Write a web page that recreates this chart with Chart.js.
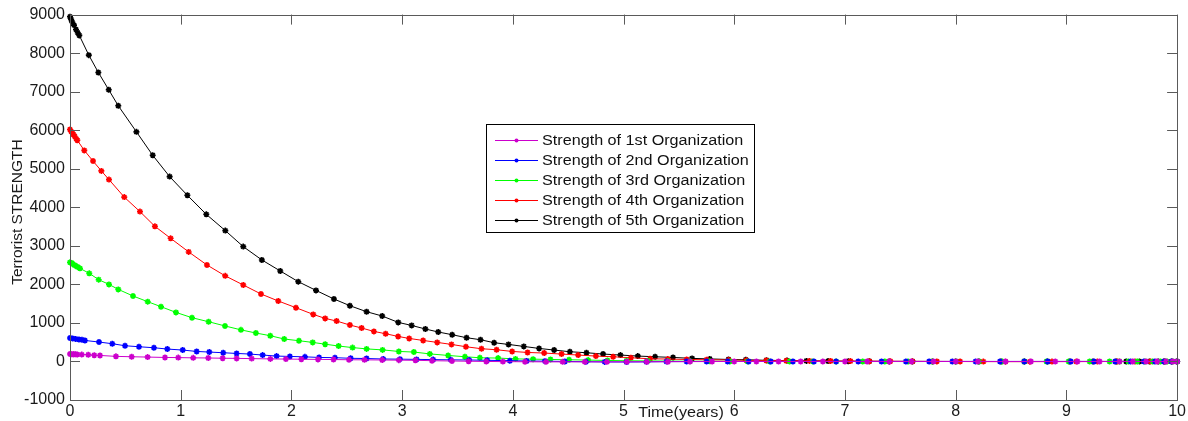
<!DOCTYPE html>
<html>
<head>
<meta charset="utf-8">
<script src="https://cdn.jsdelivr.net/npm/chart.js@4/dist/chart.umd.min.js"></script>
<style>
  html, body { margin: 0; padding: 0; background: #fff; }
  #wrap { width: 1188px; height: 421px; position: relative; }
</style>
</head>
<body>
<div id="wrap"><canvas id="c" width="1188" height="421"></canvas></div>
<script>
// ---- data ----
const xTicks = [0, 1, 2, 3, 4, 5, 6, 7, 8, 9, 10];
const yTicks = [-1000, 0, 1000, 2000, 3000, 4000, 5000, 6000, 7000, 8000, 9000];

const seriesNames = [
  'Strength of 1st Organization',
  'Strength of 2nd Organization',
  'Strength of 3rd Organization',
  'Strength of 4th Organization',
  'Strength of 5th Organization'
];

const t1 = [0,0.015,0.03,0.036,0.052,0.066,0.106,0.165,0.219,0.271,0.415,0.557,0.701,0.858,0.978,1.113,1.249,1.379,1.505,1.641,1.81,1.95,2.09,2.24,2.38,2.52,2.66,2.82,2.97,3.12,3.27,3.45,3.6,3.76,3.91,4.11,4.30,4.45,4.65,4.85,5.03,5.21,5.40,5.6,5.8,6.0,6.2,6.4,6.6,6.8,7.0,7.2,7.4,7.6,7.8,8.0,8.2,8.45,8.68,8.9,9.1,9.3,9.48,9.6,9.72,9.82,9.9,9.96,10];
const v1 = [192,190,188,186,184,182,178,174,162,156,132,122,114,104,100,94,90,84,80,74,66,62,58,54,50,44,42,38,34,30,20,12,6,0,-4,-8,-10,-10,-10,-10,-9,-8,-6,-4,-2,-1,0,0,0,0,0,0,0,0,0,0,0,0,0,0,0,0,0,0,0,0,0,0,0];

const t2 = [0,0.024,0.052,0.081,0.108,0.135,0.262,0.382,0.497,0.623,0.758,0.879,1.018,1.144,1.258,1.384,1.505,1.625,1.74,1.866,1.986,2.122,2.25,2.393,2.535,2.679,2.829,2.98,3.13,3.28,3.44,3.605,3.768,3.973,4.124,4.29,4.47,4.66,4.83,5.027,5.207,5.388,5.57,5.75,5.94,6.13,6.33,6.53,6.72,6.92,7.12,7.33,7.55,7.76,7.97,8.18,8.40,8.62,8.83,9.04,9.25,9.44,9.58,9.70,9.80,9.88,9.95,10];
const v2 = [610,597,582,571,564,545,504,460,408,382,356,322,296,260,244,226,208,192,166,140,130,120,104,98,82,76,64,60,54,48,42,38,30,20,12,8,0,-6,-12,-14,-10,-4,-2,0,0,0,0,0,0,0,0,0,0,0,0,0,0,0,0,0,0,0,0,0,0,0,0,0];

const t3 = [0,0.015,0.024,0.039,0.054,0.069,0.09,0.174,0.259,0.352,0.436,0.569,0.702,0.822,0.957,1.102,1.252,1.4,1.544,1.679,1.809,1.935,2.068,2.192,2.305,2.426,2.552,2.679,2.823,2.97,3.106,3.25,3.416,3.567,3.702,3.867,4.024,4.183,4.34,4.508,4.68,4.855,5.027,5.22,5.40,5.60,5.78,5.96,6.12,6.32,6.50,6.71,6.92,7.16,7.36,7.57,7.79,8.0,8.21,8.42,8.62,8.82,9.02,9.21,9.39,9.48,9.56,9.64,9.71,9.78,9.85,9.91,9.96,10];
const v3 = [2571,2556,2530,2504,2478,2452,2416,2286,2122,2000,1870,1699,1551,1421,1273,1135,1031,921,820,738,668,582,538,494,448,400,360,326,300,260,244,196,156,122,96,88,66,60,52,44,36,26,18,14,10,6,4,2,1,0,-1,-2,-2,-2,-2,-2,-2,-1,-1,-1,0,0,0,0,0,0,0,0,0,0,0,0,0,0];

const t4 = [0,0.009,0.021,0.03,0.042,0.057,0.066,0.129,0.208,0.283,0.352,0.49,0.632,0.767,0.909,1.072,1.237,1.402,1.565,1.725,1.881,2.041,2.197,2.305,2.408,2.528,2.634,2.745,2.851,2.964,3.064,3.19,3.317,3.446,3.576,3.717,3.853,3.994,4.133,4.283,4.44,4.59,4.75,4.906,5.066,5.24,5.40,5.57,5.75,5.95,6.11,6.29,6.47,6.68,6.87,7.05,7.22,7.41,7.61,7.83,8.04,8.25,8.45,8.67,8.87,9.09,9.28,9.46,9.62,9.76,9.88,10];
const v4 = [6018,5974,5932,5888,5844,5777,5740,5477,5200,4945,4719,4265,3888,3506,3195,2842,2504,2221,1984,1751,1569,1395,1221,1117,1049,945,868,779,719,649,597,545,494,442,382,330,304,260,234,218,192,166,140,122,96,70,62,52,44,38,30,24,20,15,12,9,7,5,3,1,-2,-4,-5,-5,-4,-4,-3,-1,0,0,0,0];

const t5 = [0,0.01,0.02,0.036,0.054,0.07,0.084,0.17,0.256,0.35,0.436,0.6,0.747,0.9,1.06,1.231,1.403,1.565,1.733,1.899,2.062,2.222,2.384,2.528,2.679,2.82,2.965,3.086,3.21,3.326,3.452,3.582,3.708,3.831,3.961,4.099,4.237,4.373,4.515,4.665,4.815,4.972,5.129,5.285,5.447,5.619,5.779,5.948,6.104,6.291,6.477,6.652,6.847,7.03,7.22,7.40,7.61,7.79,8.0,8.21,8.41,8.62,8.83,9.03,9.24,9.45,9.54,9.66,9.75,9.83,9.89,9.95,10];
const v5 = [8945,8875,8805,8727,8615,8530,8460,7948,7499,7049,6634,5958,5350,4797,4312,3818,3395,2980,2634,2348,2070,1844,1621,1447,1291,1179,1013,935,842,764,694,616,564,486,442,390,338,296,252,226,192,166,140,122,104,80,66,52,44,30,22,14,10,6,4,2,1,0,0,-1,-2,-2,-1,-1,0,0,0,0,0,0,0,0,0];

const seriesT = [t1, t2, t3, t4, t5];
const seriesV = [v1, v2, v3, v4, v5];
const seriesColors = ['#CC00CC', '#0000FF', '#00FF00', '#FF0000', '#000000'];

const xTitle = 'Time(years)';
const yTitle = 'Terrorist STRENGTH';

// ---- build datasets ----
const datasets = seriesNames.map((name, i) => ({
  label: name,
  data: seriesT[i].map((t, k) => ({ x: t, y: seriesV[i][k] })),
  borderColor: seriesColors[i],
  backgroundColor: seriesColors[i],
  borderWidth: 1,
  pointStyle: 'star',
  pointRadius: 3,
  pointBorderWidth: 1.6,
  pointHoverRadius: 3,
  tension: 0,
  clip: 6
}));

const FONT = '"Liberation Sans", Arial, sans-serif';
const STRETCH = 1.155;

function stretchedText(ctx, text, x, y, align) {
  ctx.save();
  ctx.translate(x, y);
  ctx.scale(STRETCH, 1);
  ctx.textAlign = align;
  ctx.fillText(text, 0, 0);
  ctx.restore();
}

const framePlugin = {
  id: 'frame',
  afterDatasetsDraw(chart) {
    const { ctx, chartArea: a, scales } = chart;
    ctx.save();
    ctx.strokeStyle = '#5a5a5a';
    ctx.lineWidth = 1;
    ctx.strokeRect(Math.round(a.left) + 0.5, Math.round(a.top) + 0.5,
                   Math.round(a.right - a.left), Math.round(a.bottom - a.top));
    const L = 10;
    ctx.beginPath();
    xTicks.forEach(v => {
      const px = Math.round(scales.x.getPixelForValue(v)) + 0.5;
      ctx.moveTo(px, a.bottom); ctx.lineTo(px, a.bottom - L);
      ctx.moveTo(px, a.top); ctx.lineTo(px, a.top + L);
    });
    yTicks.forEach(v => {
      const py = Math.round(scales.y.getPixelForValue(v)) + 0.5;
      ctx.moveTo(a.left, py); ctx.lineTo(a.left + L, py);
      ctx.moveTo(a.right, py); ctx.lineTo(a.right - L, py);
    });
    ctx.stroke();

    // axis titles
    ctx.fillStyle = '#1a1a1a';
    ctx.font = '14px ' + FONT;
    ctx.textBaseline = 'middle';
    stretchedText(ctx, xTitle, 681, 413, 'center');
    ctx.save();
    ctx.translate(18, 212);
    ctx.rotate(-Math.PI / 2);
    ctx.font = '15.5px ' + FONT;
    ctx.textAlign = 'center';
    ctx.fillText(yTitle, 0, 0);
    ctx.restore();

    // legend box
    const bx = 486.5, by = 124.5, bw = 268, bh = 108;
    ctx.fillStyle = '#ffffff';
    ctx.fillRect(bx, by, bw, bh);
    ctx.strokeStyle = '#000';
    ctx.strokeRect(bx, by, bw, bh);
    ctx.font = '14px ' + FONT;
    chart.data.datasets.forEach((ds, i) => {
      const y = 140 + i * 20;
      ctx.strokeStyle = ds.borderColor;
      ctx.lineWidth = 1;
      ctx.beginPath();
      ctx.moveTo(495, y + 0.5); ctx.lineTo(538, y + 0.5);
      ctx.stroke();
      ctx.fillStyle = ds.borderColor;
      ctx.beginPath();
      ctx.arc(516.5, y + 0.5, 2, 0, Math.PI * 2);
      ctx.fill();
      ctx.fillStyle = '#111';
      stretchedText(ctx, ds.label, 542, y + 1, 'left');
    });
    ctx.restore();
  }
};

new Chart(document.getElementById('c'), {
  type: 'line',
  data: { datasets },
  options: {
    responsive: false,
    animation: false,
    devicePixelRatio: 1,
    layout: { padding: { top: 14, right: 10, left: 0, bottom: 0 } },
    plugins: { legend: { display: false }, tooltip: { enabled: false } },
    elements: { line: { fill: false } },
    scales: {
      x: {
        type: 'linear', min: 0, max: 10,
        afterBuildTicks(s) { s.ticks = xTicks.map(v => ({ value: v })); },
        afterFit(s) { s.height = 21; },
        grid: { display: false, drawTicks: false },
        border: { display: false },
        ticks: { color: '#1a1a1a', font: { size: 16, family: FONT }, padding: 2, maxRotation: 0, autoSkip: false,
                 callback: v => String(v) }
      },
      y: {
        type: 'linear', min: -1000, max: 9000,
        afterBuildTicks(s) { s.ticks = yTicks.map(v => ({ value: v })); },
        afterFit(s) { s.width = 70; },
        grid: { display: false, drawTicks: false },
        border: { display: false },
        ticks: { color: '#1a1a1a', font: { size: 16, family: FONT }, padding: 5, autoSkip: false,
                 callback: v => String(v) }
      }
    }
  },
  plugins: [framePlugin]
});
</script>
</body>
</html>
